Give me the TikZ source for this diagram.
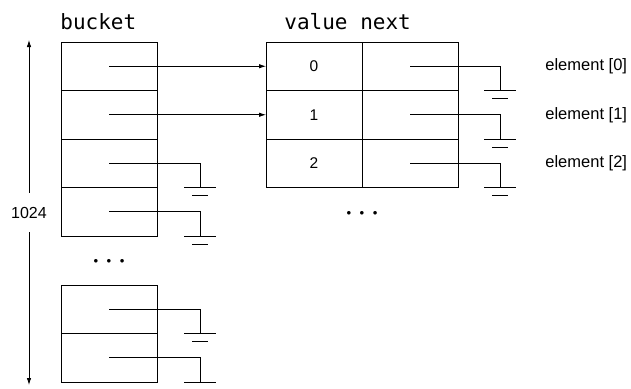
\documentclass[tikz,border=0pt]{standalone}
\usepackage{fontspec}
\setmainfont{Liberation Sans}
\newfontfamily\codefont{DejaVu Sans Mono}
\usetikzlibrary{arrows.meta, positioning, calc}

% ground symbol below a wire end
\newcommand{\earthat}[1]{%
  \draw (#1) ++(-16,0) -- ++(32,0);
  \draw (#1) ++(-8,8) -- ++(16,0);}

\begin{document}
\begin{tikzpicture}[
  x=1pt, y=-1pt,
  >={Latex[length=7pt,width=4.5pt]},
  line width=0.8pt,
  node distance=0pt,
  cell/.style={draw, rectangle, minimum width=96pt, minimum height=48.5pt,
               inner sep=0pt, outer sep=0pt, font=\fontsize{15.5}{18}\selectfont},
  header/.style={font=\codefont\fontsize{21}{24}\selectfont, anchor=base west, inner sep=0pt},
  elemtext/.style={font=\fontsize{16.5}{19}\selectfont, inner sep=0pt},
  dots/.style={font=\fontsize{9}{10}\selectfont, inner sep=0pt},
  ptr/.style={->},
  wire/.style={-}
]
\useasboundingbox (0,0) rectangle (631,388);

% headers
\node[header] (hbucket) at (60,29) {bucket};
\node[header] (hvalue) at (284,29) {value next};

% bucket column
\node[cell, anchor=north west] (b0) at (61,42) {};
\node[cell, below=of b0] (b1) {};
\node[cell, below=of b1] (b2) {};
\node[cell, below=of b2] (b3) {};
\node[dots] (bdots) at (109,261) {$\bullet$\hspace{8.5pt}$\bullet$\hspace{8.5pt}$\bullet$};
\node[cell, anchor=north west] (b4) at (61,285) {};
\node[cell, below=of b4] (b5) {};

% element table
\node[cell, anchor=north west] (v0) at (266,42) {0};
\node[cell, right=of v0] (n0) {};
\node[cell, below=of v0] (v1) {1};
\node[cell, right=of v1] (n1) {};
\node[cell, below=of v1] (v2) {2};
\node[cell, right=of v2] (n2) {};
\node[dots] (vdots) at (362,213) {$\bullet$\hspace{8.5pt}$\bullet$\hspace{8.5pt}$\bullet$};

\node[elemtext, anchor=west, right=87pt of n0] (e0) {element [0]};
\node[elemtext, anchor=west, right=87pt of n1] (e1) {element [1]};
\node[elemtext, anchor=west, right=87pt of n2] (e2) {element [2]};

% size arrow
\coordinate (sizetop) at (29,40);
\coordinate (sizebot) at (29,385);
\draw[<->] (sizetop) -- node[fill=white, inner xsep=1pt, inner ysep=13.6pt,
  font=\fontsize{16}{18}\selectfont] (size) {1024} (sizebot);

% pointers
\draw[ptr] (b0.center) -- (v0.west);
\draw[ptr] (b1.center) -- (v1.west);

% null pointers
\foreach \c in {b2,b3,b4,b5} {
  \coordinate (g\c) at ($(\c.south)+(91,0)$);
  \draw[wire] (\c.center) -| (g\c);
  \earthat{g\c}
}
\foreach \c in {n0,n1,n2} {
  \coordinate (g\c) at ($(\c.south)+(90,0)$);
  \draw[wire] (\c.center) -| (g\c);
  \earthat{g\c}
}

\end{tikzpicture}
\end{document}
